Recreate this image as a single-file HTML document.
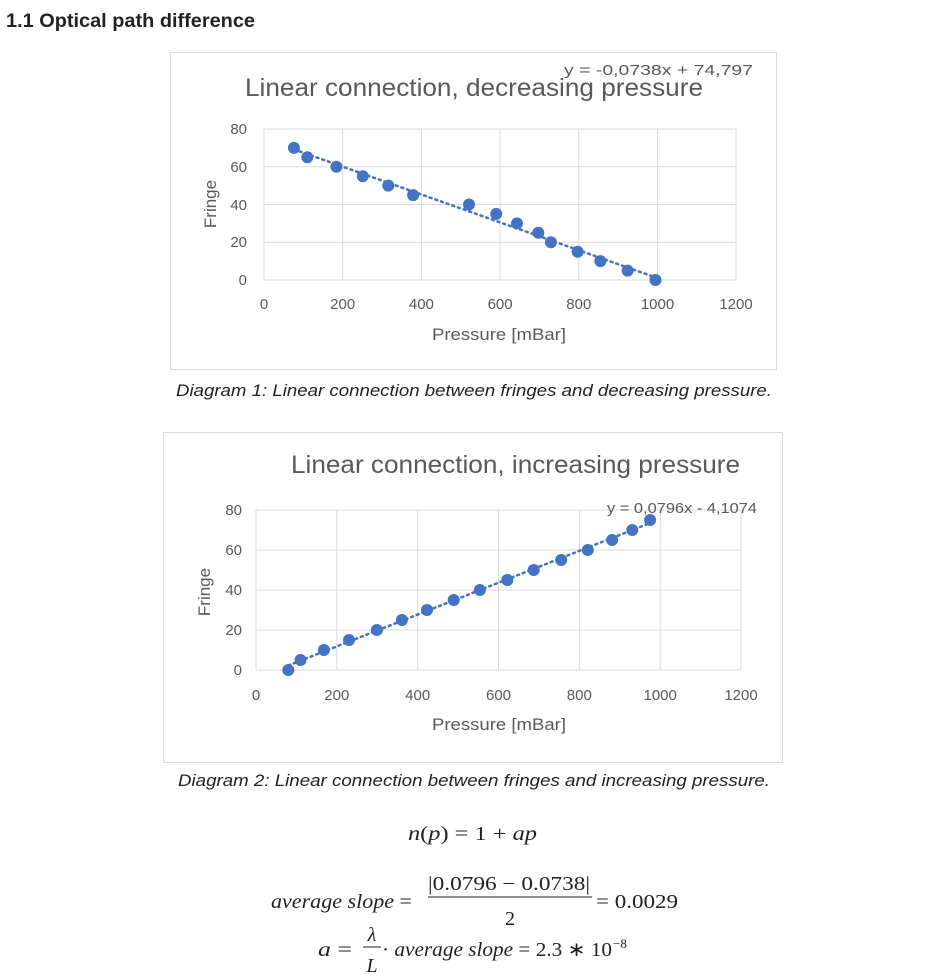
<!DOCTYPE html>
<html><head><meta charset="utf-8"><style>
html,body{margin:0;padding:0;background:#fff;}
svg{display:block;}
.t{font-family:"Liberation Sans",sans-serif;fill:#595959;}
.m{font-family:"Liberation Serif",serif;fill:#222;}
</style></head><body>
<svg width="945" height="976" viewBox="0 0 945 976" xmlns="http://www.w3.org/2000/svg">
<text x="6" y="27" font-family="Liberation Sans,sans-serif" font-weight="bold" font-size="19" fill="#222" textLength="249" lengthAdjust="spacingAndGlyphs">1.1 Optical path difference</text>

<!-- Chart 1 -->
<rect x="170.5" y="52.5" width="606" height="317" fill="#fff" stroke="#d9d9d9"/>
<text class="t" x="245" y="96" font-size="25" textLength="458" lengthAdjust="spacingAndGlyphs">Linear connection, decreasing pressure</text>
<text class="t" x="564" y="75" font-size="15" textLength="189" lengthAdjust="spacingAndGlyphs">y = -0,0738x + 74,797</text>
<g stroke="#d9d9d9" stroke-width="1">
<line x1="264" y1="129" x2="736" y2="129"/><line x1="264" y1="166.75" x2="736" y2="166.75"/>
<line x1="264" y1="204.5" x2="736" y2="204.5"/><line x1="264" y1="242.25" x2="736" y2="242.25"/>
<line x1="264" y1="280" x2="736" y2="280"/>
<line x1="264" y1="129" x2="264" y2="280"/><line x1="342.7" y1="129" x2="342.7" y2="280"/>
<line x1="421.4" y1="129" x2="421.4" y2="280"/><line x1="500.1" y1="129" x2="500.1" y2="280"/>
<line x1="578.8" y1="129" x2="578.8" y2="280"/><line x1="657.5" y1="129" x2="657.5" y2="280"/>
<line x1="736" y1="129" x2="736" y2="280"/>
</g>
<g class="t" font-size="15" text-anchor="end">
<text x="247" y="134">80</text><text x="247" y="172">60</text><text x="247" y="210">40</text><text x="247" y="247">20</text><text x="247" y="285">0</text>
</g>
<g class="t" font-size="15" text-anchor="middle">
<text x="264" y="309">0</text><text x="342.7" y="309">200</text><text x="421.4" y="309">400</text><text x="500.1" y="309">600</text><text x="578.8" y="309">800</text><text x="657.5" y="309">1000</text><text x="736" y="309">1200</text>
</g>
<text class="t" x="432" y="340" font-size="17" textLength="134" lengthAdjust="spacingAndGlyphs">Pressure [mBar]</text>
<text class="t" font-size="17" text-anchor="middle" transform="translate(216,204) rotate(-90)">Fringe</text>
<line x1="293.9" y1="149.4" x2="657.5" y2="278.1" stroke="#4472C4" stroke-width="2.5" stroke-dasharray="2,4" stroke-linecap="round"/>
<g fill="#4472C4">
<circle cx="293.9" cy="147.9" r="6"/><circle cx="307.3" cy="157.3" r="6"/><circle cx="336.4" cy="166.75" r="6"/>
<circle cx="362.8" cy="176.2" r="6"/><circle cx="388.3" cy="185.6" r="6"/><circle cx="413.1" cy="195.1" r="6"/>
<circle cx="469" cy="204.5" r="6"/><circle cx="496.2" cy="213.9" r="6"/><circle cx="517" cy="223.4" r="6"/>
<circle cx="538.3" cy="232.8" r="6"/><circle cx="550.9" cy="242.25" r="6"/><circle cx="577.6" cy="251.7" r="6"/>
<circle cx="600.4" cy="261.1" r="6"/><circle cx="627.6" cy="270.6" r="6"/><circle cx="655.5" cy="280" r="6"/>
</g>
<text x="176" y="396" font-family="Liberation Sans,sans-serif" font-style="italic" font-size="17" fill="#222" textLength="596" lengthAdjust="spacingAndGlyphs">Diagram 1: Linear connection between fringes and decreasing pressure.</text>

<!-- Chart 2 -->
<rect x="163.5" y="432.5" width="619" height="330" fill="#fff" stroke="#d9d9d9"/>
<text class="t" x="291" y="473" font-size="25" textLength="449" lengthAdjust="spacingAndGlyphs">Linear connection, increasing pressure</text>
<g stroke="#d9d9d9" stroke-width="1">
<line x1="256" y1="510" x2="741" y2="510"/><line x1="256" y1="550" x2="741" y2="550"/>
<line x1="256" y1="590" x2="741" y2="590"/><line x1="256" y1="630" x2="741" y2="630"/>
<line x1="256" y1="670" x2="741" y2="670"/>
<line x1="256" y1="510" x2="256" y2="670"/><line x1="336.8" y1="510" x2="336.8" y2="670"/>
<line x1="417.7" y1="510" x2="417.7" y2="670"/><line x1="498.5" y1="510" x2="498.5" y2="670"/>
<line x1="579.3" y1="510" x2="579.3" y2="670"/><line x1="660.2" y1="510" x2="660.2" y2="670"/>
<line x1="741" y1="510" x2="741" y2="670"/>
</g>
<text class="t" x="607" y="513" font-size="15" textLength="150" lengthAdjust="spacingAndGlyphs">y = 0,0796x - 4,1074</text>
<g class="t" font-size="15" text-anchor="end">
<text x="242" y="515">80</text><text x="242" y="555">60</text><text x="242" y="595">40</text><text x="242" y="635">20</text><text x="242" y="675">0</text>
</g>
<g class="t" font-size="15" text-anchor="middle">
<text x="256" y="700">0</text><text x="336.8" y="700">200</text><text x="417.7" y="700">400</text><text x="498.5" y="700">600</text><text x="579.3" y="700">800</text><text x="660.2" y="700">1000</text><text x="741" y="700">1200</text>
</g>
<text class="t" x="432" y="730" font-size="17" textLength="134" lengthAdjust="spacingAndGlyphs">Pressure [mBar]</text>
<text class="t" font-size="17" text-anchor="middle" transform="translate(210,592) rotate(-90)">Fringe</text>
<line x1="288.3" y1="665.5" x2="650.1" y2="523" stroke="#4472C4" stroke-width="2.5" stroke-dasharray="2,4" stroke-linecap="round"/>
<g fill="#4472C4">
<circle cx="288.3" cy="670" r="6"/><circle cx="300.5" cy="660" r="6"/><circle cx="323.9" cy="650" r="6"/>
<circle cx="349" cy="640" r="6"/><circle cx="376.9" cy="630" r="6"/><circle cx="401.9" cy="620" r="6"/>
<circle cx="427" cy="610" r="6"/><circle cx="453.7" cy="600" r="6"/><circle cx="479.9" cy="590" r="6"/>
<circle cx="507.4" cy="580" r="6"/><circle cx="533.7" cy="570" r="6"/><circle cx="561.2" cy="560" r="6"/>
<circle cx="587.8" cy="550" r="6"/><circle cx="612.1" cy="540" r="6"/><circle cx="632.3" cy="530" r="6"/>
<circle cx="650.1" cy="520" r="6"/>
</g>
<text x="178" y="786" font-family="Liberation Sans,sans-serif" font-style="italic" font-size="17" fill="#222" textLength="592" lengthAdjust="spacingAndGlyphs">Diagram 2: Linear connection between fringes and increasing pressure.</text>

<!-- Math -->
<text class="m" x="408" y="840" font-size="20" textLength="129" lengthAdjust="spacingAndGlyphs"><tspan font-style="italic">n</tspan>(<tspan font-style="italic">p</tspan>) = 1 + <tspan font-style="italic">ap</tspan></text>
<text class="m" x="271" y="908" font-size="20" textLength="141" lengthAdjust="spacingAndGlyphs"><tspan font-style="italic">average slope</tspan> =</text>
<text class="m" x="428" y="890" font-size="20" textLength="162" lengthAdjust="spacingAndGlyphs">|0.0796 − 0.0738|</text>
<line x1="428" y1="897" x2="592" y2="897" stroke="#222" stroke-width="1"/>
<text class="m" x="510" y="925" font-size="20" text-anchor="middle">2</text>
<text class="m" x="596" y="908" font-size="20" textLength="82" lengthAdjust="spacingAndGlyphs">= 0.0029</text>
<text class="m" x="318" y="956" font-size="20" textLength="34" lengthAdjust="spacingAndGlyphs"><tspan font-style="italic">a</tspan> =</text>
<text class="m" x="372" y="941" font-size="20" font-style="italic" text-anchor="middle">λ</text>
<line x1="363" y1="947" x2="381" y2="947" stroke="#222" stroke-width="1"/>
<text class="m" x="372" y="972" font-size="20" font-style="italic" text-anchor="middle">L</text>
<text class="m" x="382" y="956" font-size="20" textLength="230" lengthAdjust="spacingAndGlyphs">· <tspan font-style="italic">average slope</tspan> = 2.3 ∗ 10</text>
<text class="m" x="613" y="948" font-size="13">−8</text>
</svg>
</body></html>
